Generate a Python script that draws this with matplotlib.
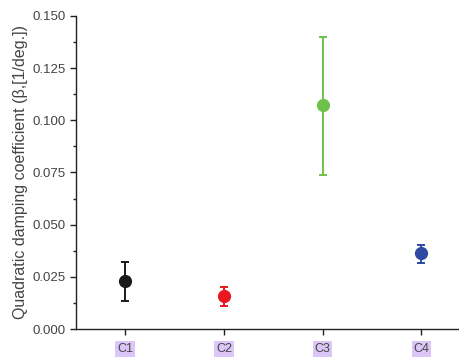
import matplotlib.pyplot as plt
from matplotlib.ticker import MultipleLocator

plt.rcParams['font.family'] = ['Liberation Sans', 'DejaVu Sans']

cases = ["C1", "C2", "C3", "C4"]
beta = [0.0228, 0.0157, 0.1075, 0.0363]
err_low = [0.0095, 0.0045, 0.0335, 0.0048]
err_high = [0.0095, 0.0045, 0.0325, 0.0040]
colors = ["#1a1a1a", "#e8181e", "#6cc24a", "#2e4aa0"]

fig = plt.figure(figsize=(4.59, 3.62), dpi=100)
ax = fig.add_axes([0.166, 0.091, 0.834, 0.865])

x = range(1, len(cases) + 1)
for xi, b, lo, hi, c in zip(x, beta, err_low, err_high, colors):
    ax.errorbar(xi, b, yerr=[[lo], [hi]], fmt='o', color=c, ecolor=c,
                markersize=8.5, elinewidth=1.4, capsize=3.2, capthick=1.4)

ax.set_xlim(0.505, 4.38)
ax.set_ylim(0, 0.15)
ax.set_xticks(list(x))
ax.set_xticklabels(cases)
ax.yaxis.set_major_locator(MultipleLocator(0.025))
ax.yaxis.set_minor_locator(MultipleLocator(0.0125))
ax.yaxis.set_major_formatter(lambda v, p: f"{v:.3f}")

for s in ("top", "right"):
    ax.spines[s].set_visible(False)
for s in ("left", "bottom"):
    ax.spines[s].set_linewidth(1.0)
    ax.spines[s].set_color("#222222")

ax.tick_params(axis='both', which='major', direction='out', length=4,
               width=1.0, labelsize=9.5, colors="#222222", labelcolor="#444444")
ax.tick_params(axis='x', labelsize=9, pad=6)
ax.tick_params(axis='y', which='minor', direction='out', length=2.5, width=1.0,
               colors="#222222")

for lbl in ax.get_xticklabels():
    lbl.set_bbox(dict(facecolor="#dcc6f7", edgecolor="none", pad=1.3))

ax.set_ylabel("Quadratic damping coefficient (β,[1/deg.])", fontsize=11.5,
              color="#444444", labelpad=3)

fig.savefig("out.png", dpi=100)
